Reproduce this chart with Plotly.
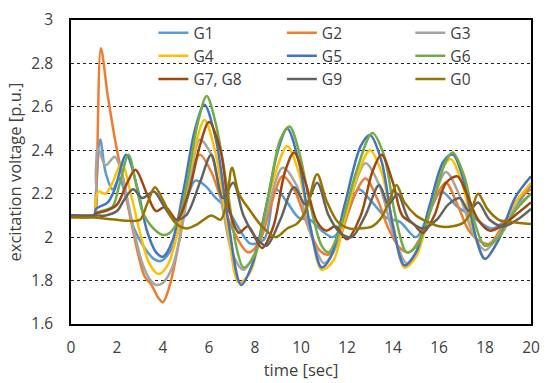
import plotly.graph_objects as go

# ---------------- data ----------------
t_G1 = [0, 1.0, 1.08, 1.27, 1.5, 1.8, 2.1, 2.4, 2.7, 3.2, 3.6, 3.9, 4.4, 4.9, 5.4, 5.8, 6.3, 6.8, 7.3, 7.8, 8.4, 8.9, 9.4, 9.9, 10.4, 10.9, 11.4, 12.0, 12.5, 13.1, 13.7, 14.3, 15.0, 15.6, 16.1, 16.8, 17.4, 18.3, 19.0, 19.6, 20]
v_G1 = [2.10, 2.10, 2.20, 2.45, 2.30, 2.22, 2.27, 2.18, 2.05, 1.95, 1.90, 1.89, 1.95, 2.12, 2.26, 2.24, 2.18, 2.13, 2.04, 1.97, 1.99, 2.22, 2.16, 2.09, 2.08, 2.03, 2.00, 2.10, 2.22, 2.16, 2.09, 2.07, 2.00, 2.12, 2.21, 2.14, 2.10, 2.04, 2.09, 2.18, 2.24]

t_G2 = [0, 1.0, 1.08, 1.3, 1.6, 2.0, 2.3, 2.6, 2.9, 3.2, 3.5, 3.8, 4.0, 4.3, 4.7, 5.1, 5.6, 6.1, 6.6, 7.1, 7.7, 8.2, 8.7, 9.2, 9.7, 10.3, 10.8, 11.2, 11.7, 12.2, 12.8, 13.3, 13.8, 14.3, 14.7, 15.3, 15.8, 16.3, 16.8, 17.3, 17.8, 18.2, 18.8, 19.4, 20]
v_G2 = [2.10, 2.10, 2.15, 2.87, 2.65, 2.40, 2.25, 2.08, 1.93, 1.82, 1.78, 1.72, 1.70, 1.78, 1.98, 2.22, 2.38, 2.30, 2.15, 2.02, 1.93, 1.98, 2.15, 2.28, 2.22, 2.05, 1.94, 1.92, 2.00, 2.16, 2.27, 2.18, 2.04, 1.95, 1.93, 2.02, 2.17, 2.25, 2.15, 2.03, 1.98, 1.97, 2.06, 2.17, 2.22]

t_G3 = [0, 1.0, 1.08, 1.17, 1.5, 1.9, 2.2, 2.5, 2.8, 3.1, 3.4, 3.7, 4.0, 4.4, 4.8, 5.2, 5.6, 6.1, 6.6, 7.0, 7.5, 8.0, 8.6, 9.2, 9.8, 10.4, 11.0, 11.5, 12.1, 12.8, 13.4, 14.0, 14.6, 15.1, 15.7, 16.3, 16.9, 17.5, 18.0, 18.6, 19.3, 20]
v_G3 = [2.10, 2.10, 2.30, 2.41, 2.33, 2.37, 2.30, 2.15, 2.00, 1.88, 1.81, 1.78, 1.79, 1.86, 2.03, 2.28, 2.45, 2.38, 2.13, 1.93, 1.85, 1.93, 2.15, 2.32, 2.24, 2.02, 1.88, 1.95, 2.16, 2.34, 2.24, 2.02, 1.88, 1.95, 2.15, 2.30, 2.19, 2.01, 1.94, 2.01, 2.13, 2.20]

t_G4 = [0, 1.0, 1.08, 1.2, 1.5, 1.8, 2.2, 2.6, 3.0, 3.4, 3.8, 4.2, 4.7, 5.2, 5.8, 6.3, 6.8, 7.3, 7.8, 8.3, 8.9, 9.4, 9.9, 10.4, 10.9, 11.4, 11.9, 12.5, 13.0, 13.5, 14.0, 14.5, 15.0, 15.5, 16.0, 16.5, 17.0, 17.5, 18.0, 18.5, 19.2, 20]
v_G4 = [2.10, 2.10, 2.18, 2.21, 2.20, 2.25, 2.34, 2.20, 2.02, 1.88, 1.83, 1.87, 2.05, 2.32, 2.54, 2.38, 2.05, 1.79, 1.84, 2.05, 2.30, 2.42, 2.30, 2.05, 1.85, 1.89, 2.08, 2.30, 2.40, 2.30, 2.06, 1.86, 1.91, 2.08, 2.28, 2.36, 2.25, 2.03, 1.90, 1.97, 2.14, 2.25]

t_G5 = [0, 1.0, 1.08, 1.25, 1.6, 1.9, 2.4, 2.9, 3.3, 3.7, 4.0, 4.4, 4.9, 5.4, 5.8, 6.3, 6.8, 7.4, 7.9, 8.5, 9.0, 9.4, 9.9, 10.4, 10.9, 11.3, 11.9, 12.6, 13.0, 13.5, 14.0, 14.5, 15.0, 15.6, 16.2, 16.6, 17.1, 17.6, 18.0, 18.6, 19.3, 20]
v_G5 = [2.10, 2.10, 2.13, 2.14, 2.16, 2.22, 2.38, 2.22, 2.03, 1.93, 1.91, 1.98, 2.22, 2.50, 2.61, 2.45, 2.10, 1.78, 1.88, 2.15, 2.40, 2.50, 2.35, 2.05, 1.86, 1.91, 2.15, 2.42, 2.47, 2.35, 2.05, 1.87, 1.93, 2.15, 2.35, 2.38, 2.25, 2.00, 1.90, 1.99, 2.18, 2.28]

t_G6 = [0, 1.0, 1.08, 1.3, 1.8, 2.1, 2.5, 2.8, 3.1, 3.5, 4.0, 4.3, 4.7, 5.1, 5.5, 5.9, 6.3, 6.8, 7.2, 7.5, 8.0, 8.6, 9.1, 9.5, 9.9, 10.4, 10.9, 11.2, 11.7, 12.4, 13.1, 13.6, 14.1, 14.6, 15.1, 15.7, 16.3, 16.6, 17.1, 17.6, 18.0, 18.6, 19.3, 20]
v_G6 = [2.10, 2.10, 2.11, 2.12, 2.14, 2.24, 2.38, 2.26, 2.12, 2.05, 2.01, 2.02, 2.09, 2.28, 2.52, 2.65, 2.52, 2.22, 1.95, 1.86, 1.92, 2.20, 2.45, 2.51, 2.40, 2.15, 1.96, 1.93, 2.04, 2.30, 2.48, 2.38, 2.10, 1.93, 1.97, 2.15, 2.35, 2.39, 2.28, 2.05, 1.96, 2.00, 2.12, 2.20]

t_G78 = [0, 1.0, 1.1, 1.5, 2.0, 2.4, 2.8, 3.3, 3.7, 4.1, 4.6, 5.1, 5.6, 6.0, 6.5, 6.9, 7.3, 7.7, 8.3, 8.8, 9.3, 9.7, 10.2, 10.7, 11.1, 11.5, 12.0, 12.6, 13.1, 13.5, 14.0, 14.4, 14.9, 15.3, 15.8, 16.3, 16.8, 17.2, 17.7, 18.2, 18.7, 19.3, 20]
v_G78 = [2.10, 2.10, 2.11, 2.12, 2.15, 2.24, 2.31, 2.20, 2.12, 2.14, 2.08, 2.20, 2.42, 2.53, 2.40, 2.12, 2.02, 2.05, 1.95, 2.05, 2.30, 2.39, 2.25, 2.07, 2.03, 2.05, 1.99, 2.10, 2.30, 2.38, 2.25, 2.10, 2.06, 2.02, 2.10, 2.25, 2.28, 2.20, 2.08, 2.03, 2.05, 2.10, 2.16]

t_G9 = [0, 1.0, 1.5, 2.0, 2.3, 2.7, 3.1, 3.6, 4.0, 4.5, 5.0, 5.6, 6.1, 6.6, 7.05, 7.5, 8.1, 8.5, 9.1, 9.7, 10.2, 10.7, 11.2, 11.7, 12.2, 12.8, 13.4, 13.8, 14.2, 14.7, 15.3, 15.9, 16.4, 16.9, 17.3, 17.7, 18.2, 18.8, 19.4, 20]
v_G9 = [2.10, 2.10, 2.10, 2.12, 2.17, 2.22, 2.18, 2.21, 2.15, 2.08, 2.10, 2.25, 2.38, 2.18, 2.25, 2.10, 1.99, 1.96, 2.08, 2.23, 2.15, 2.25, 2.10, 2.02, 2.00, 2.10, 2.24, 2.15, 2.20, 2.08, 2.04, 2.08, 2.15, 2.18, 2.12, 2.16, 2.08, 2.05, 2.08, 2.13]

t_G0 = [0, 1.0, 1.5, 2.0, 2.5, 3.0, 3.3, 3.65, 4.0, 4.5, 5.0, 5.5, 6.1, 6.5, 6.75, 7.0, 7.3, 7.8, 8.3, 8.9, 9.4, 9.8, 10.2, 10.7, 11.1, 11.6, 12.1, 12.6, 13.1, 13.5, 13.85, 14.15, 14.5, 15.0, 15.5, 16.0, 16.6, 17.1, 17.4, 17.7, 18.1, 18.6, 19.2, 20]
v_G0 = [2.09, 2.09, 2.085, 2.08, 2.075, 2.08, 2.15, 2.23, 2.17, 2.07, 2.04, 2.06, 2.10, 2.08, 2.15, 2.32, 2.20, 2.12, 2.05, 2.00, 2.04, 2.06, 2.12, 2.29, 2.17, 2.07, 2.04, 2.04, 2.05, 2.09, 2.17, 2.24, 2.16, 2.10, 2.07, 2.05, 2.05, 2.07, 2.12, 2.20, 2.13, 2.08, 2.07, 2.06]

series_names = ["G1", "G2", "G3", "G4", "G5", "G6", "G7, G8", "G9", "G0"]
series_t = [t_G1, t_G2, t_G3, t_G4, t_G5, t_G6, t_G78, t_G9, t_G0]
series_v = [v_G1, v_G2, v_G3, v_G4, v_G5, v_G6, v_G78, v_G9, v_G0]
series_colors = ["#5B9BD5", "#ED7D31", "#A5A5A5", "#FFC000", "#4472C4",
                 "#70AD47", "#9E480E", "#636363", "#997300"]
# legend column that each series is listed in (3 columns, as in the reference)
series_legend = ["legend", "legend2", "legend3", "legend", "legend2", "legend3",
                 "legend", "legend2", "legend3"]

x_ticks = [0, 2, 4, 6, 8, 10, 12, 14, 16, 18, 20]
y_ticks = [1.6, 1.8, 2.0, 2.2, 2.4, 2.6, 2.8, 3.0]
y_tick_text = ["1.6", "1.8", "2", "2.2", "2.4", "2.6", "2.8", "3"]

# ---------------- figure ----------------
W, H = 548, 383
L, R, T, B = 71, 8, 16, 59
PW, PH = W - L - R, H - T - B

def px_x(p):
    return (p - L) / PW

def px_y(p):
    return 1 - (p - T) / PH

FONT = "'Open Sans', sans-serif"
TXT = "#404040"
FS_TICK = 15.5
FS_LEG = 15.5
FS_TITLE = 16.5

fig = go.Figure()
for name, tt, vv, col, lg in zip(series_names, series_t, series_v, series_colors, series_legend):
    fig.add_trace(go.Scatter(
        x=tt, y=vv, name=name, mode="lines", legend=lg,
        line=dict(color=col, width=2.5, shape="spline", smoothing=0.9),
    ))

def legend_at(px_left):
    return dict(
        orientation="v", x=px_x(px_left), xanchor="left",
        y=px_y(12), yanchor="top",
        bgcolor="rgba(0,0,0,0)", borderwidth=0,
        font=dict(family=FONT, size=FS_LEG, color=TXT),
        tracegroupgap=0, itemwidth=30,
    )

fig.update_layout(
    width=W, height=H,
    margin=dict(l=L, r=R, t=T, b=B, pad=0),
    paper_bgcolor="white", plot_bgcolor="white",
    font=dict(family=FONT, size=FS_TICK, color=TXT),
    showlegend=True,
    legend=legend_at(155),
    legend2=legend_at(286),
    legend3=legend_at(417),
    shapes=[dict(
        type="rect", xref="paper", yref="paper", layer="between",
        x0=px_x(134), x1=px_x(527), y0=px_y(84), y1=px_y(18),
        fillcolor="white", line=dict(width=0),
    )],
)

fig.update_xaxes(
    range=[0, 20], tickmode="array", tickvals=x_ticks,
    showgrid=False, zeroline=False,
    showline=True, mirror=True, linecolor="black", linewidth=1.5,
    ticks="", ticklabelstandoff=9,
    tickfont=dict(family=FONT, size=FS_TICK, color=TXT),
    title=dict(text="time [sec]", font=dict(family=FONT, size=FS_TITLE, color=TXT), standoff=4),
)
fig.update_yaxes(
    range=[1.6, 3.0], tickmode="array", tickvals=y_ticks, ticktext=y_tick_text,
    showgrid=True, gridcolor="#222222", gridwidth=1, griddash="3px,3px",
    zeroline=False,
    showline=True, mirror=True, linecolor="black", linewidth=1.5,
    ticks="", ticklabelstandoff=13,
    tickfont=dict(family=FONT, size=FS_TICK, color=TXT),
    title=dict(text="excitation voltage [p.u.]", font=dict(family=FONT, size=FS_TITLE, color=TXT), standoff=6),
)

fig.write_html("out.html")
